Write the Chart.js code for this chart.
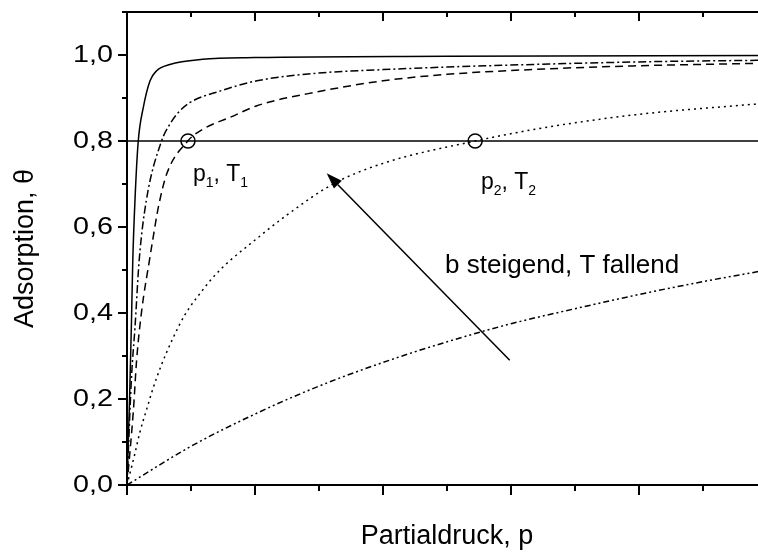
<!DOCTYPE html>
<html lang="de">
<head>
<meta charset="utf-8">
<title>Langmuir-Isothermen</title>
<script src="https://cdn.jsdelivr.net/npm/chart.js@4.4.1/dist/chart.umd.min.js"></script>
<style>
  html, body { margin: 0; padding: 0; background: #fff; overflow: hidden; }
  #wrap { width: 800px; height: 556px; }
</style>
</head>
<body>
<div id="wrap"><canvas id="isoChart" width="800" height="556"></canvas></div>
<script>
// Isothermen: Partialdruck p (0..10) und Bedeckung theta
const pA = [0, 0.04, 0.07, 0.09, 0.13, 0.176, 0.255, 0.36, 0.46, 0.67, 1.18, 2, 5, 10];
const thetaA = [0, 0.2, 0.38, 0.52, 0.68, 0.80, 0.878, 0.94, 0.963, 0.978, 0.99, 0.994, 0.997, 0.999];

const pB = [0, 0.07, 0.125, 0.19, 0.3, 0.54, 0.67, 0.8, 0.98, 1.45, 2.03, 3, 4, 5, 6.6, 8, 10];
const thetaB = [0, 0.25, 0.367, 0.522, 0.66, 0.80, 0.839, 0.866, 0.889, 0.916, 0.94, 0.958, 0.966, 0.972, 0.979, 0.984, 0.988];

const pC = [0, 0.1, 0.15, 0.23, 0.35, 0.4, 0.49, 0.62, 0.95, 1.19, 1.61, 2.03, 3, 4, 5, 6.6, 8, 10];
const thetaC = [0, 0.174, 0.29, 0.406, 0.522, 0.568, 0.646, 0.723, 0.80, 0.828, 0.855, 0.882, 0.915, 0.94, 0.955, 0.968, 0.975, 0.981];

const pD = [0, 0.125, 0.2, 0.307, 0.41, 0.54, 0.72, 0.906, 1.19, 1.4, 1.61, 1.92, 2.5, 3.22, 4, 5.44, 6.6, 8, 10];
const thetaD = [0, 0.074, 0.122, 0.176, 0.226, 0.28, 0.342, 0.396, 0.455, 0.492, 0.522, 0.56, 0.628, 0.7, 0.748, 0.80, 0.833, 0.862, 0.888];

const pE = [0, 1, 2, 3, 4, 5, 6, 7, 8, 9, 10];
const thetaE = [0, 0.09, 0.165, 0.23, 0.285, 0.333, 0.375, 0.41, 0.443, 0.473, 0.5];

// Bezugslinie theta = 0,8 und die markierten Punkte
const refTheta = 0.8;
const markP = [0.953, 5.44];
const markLabels = [['p', '1', ', T', '1'], ['p', '2', ', T', '2']];
const labelPos = [[1.03, 0.708], [5.53, 0.689]];

// Pfeil (Schwanz -> Spitze) und Beschriftung
const arrowFrom = [5.98, 0.29];
const arrowTo = [3.12, 0.725];
const arrowText = 'b steigend, T fallend';
const arrowTextPos = [4.97, 0.494];

const yTicks = [0, 0.2, 0.4, 0.6, 0.8, 1.0];

const FONT = "'Liberation Sans', Arial, sans-serif";
const toXY = (ps, ts) => ps.map((p, i) => ({ x: p, y: ts[i] }));
const fmt = v => v.toFixed(1).replace('.', ',');

function curve(ps, ts, dash) {
  return {
    data: toXY(ps, ts),
    borderColor: '#000',
    borderWidth: 1.5,
    borderDash: dash,
    pointRadius: 0,
    fill: false,
    cubicInterpolationMode: 'monotone'
  };
}

// Rahmen mit Teilstrichen: links/unten nach außen, oben/rechts nach innen;
// die y-Beschriftung ist breit gezogen
const frame = {
  id: 'frame',
  afterDraw(chart) {
    const { ctx, chartArea: a, scales: { x, y } } = chart;
    ctx.save();
    ctx.strokeStyle = '#000';
    ctx.lineWidth = 2;
    ctx.strokeRect(a.left, a.top, a.right - a.left, a.bottom - a.top);
    ctx.beginPath();
    x.ticks.forEach(t => {
      const px = x.getPixelForValue(t.value);
      const major = Math.round(t.value) % 2 === 0;
      const len = major ? 10 : 6;
      ctx.moveTo(px, a.bottom); ctx.lineTo(px, a.bottom + len);
      ctx.moveTo(px, a.top); ctx.lineTo(px, a.top + len - 1);
    });
    y.ticks.forEach(t => {
      const py = y.getPixelForValue(t.value);
      const major = Math.round(t.value * 10) % 2 === 0;
      const len = major ? 9 : 5;
      ctx.moveTo(a.left - len, py); ctx.lineTo(a.left, py);
      ctx.moveTo(a.right - len, py); ctx.lineTo(a.right, py);
    });
    ctx.stroke();

    ctx.fillStyle = '#000';
    ctx.font = '23px ' + FONT;
    ctx.textAlign = 'right';
    ctx.textBaseline = 'middle';
    yTicks.forEach(v => {
      const py = y.getPixelForValue(v);
      ctx.save();
      ctx.translate(a.left - 14, py + 1);
      ctx.scale(1.25, 1);
      ctx.fillText(fmt(v), 0, 0);
      ctx.restore();
    });
    ctx.restore();
  }
};

// Beschriftungen p1,T1 / p2,T2 und der Pfeil
const notes = {
  id: 'notes',
  afterDatasetsDraw(chart) {
    const { ctx, scales: { x, y } } = chart;
    ctx.save();
    ctx.fillStyle = '#000';
    ctx.strokeStyle = '#000';
    ctx.textBaseline = 'alphabetic';
    ctx.textAlign = 'left';

    markLabels.forEach((parts, i) => {
      let px = x.getPixelForValue(labelPos[i][0]);
      const py = y.getPixelForValue(labelPos[i][1]);
      parts.forEach((s, k) => {
        const sub = k % 2 === 1;
        ctx.font = (sub ? '14px ' : '23px ') + FONT;
        ctx.fillText(s, px, sub ? py + 6 : py);
        px += ctx.measureText(s).width;
      });
    });

    ctx.font = '26px ' + FONT;
    ctx.fillText(arrowText, x.getPixelForValue(arrowTextPos[0]), y.getPixelForValue(arrowTextPos[1]));

    const x0 = x.getPixelForValue(arrowFrom[0]), y0 = y.getPixelForValue(arrowFrom[1]);
    const x1 = x.getPixelForValue(arrowTo[0]), y1 = y.getPixelForValue(arrowTo[1]);
    const ang = Math.atan2(y1 - y0, x1 - x0);
    const hl = 16, hw = 5.5;
    const bx = x1 - hl * Math.cos(ang), by = y1 - hl * Math.sin(ang);
    ctx.lineWidth = 1.5;
    ctx.beginPath();
    ctx.moveTo(x0, y0);
    ctx.lineTo(bx, by);
    ctx.stroke();
    ctx.beginPath();
    ctx.moveTo(x1, y1);
    ctx.lineTo(bx + hw * Math.sin(ang), by - hw * Math.cos(ang));
    ctx.lineTo(bx - hw * Math.sin(ang), by + hw * Math.cos(ang));
    ctx.closePath();
    ctx.fill();
    ctx.restore();
  }
};

new Chart(document.getElementById('isoChart'), {
  type: 'line',
  data: {
    datasets: [
      curve(pA, thetaA, []),
      curve(pB, thetaB, [8, 3, 2, 3]),
      curve(pC, thetaC, [8, 5]),
      curve(pD, thetaD, [2, 4]),
      curve(pE, thetaE, [6, 3, 2, 3, 2, 3]),
      {
        data: [{ x: 0, y: refTheta }, { x: 10, y: refTheta }],
        borderColor: '#000',
        borderWidth: 1.5,
        pointRadius: 0
      },
      {
        type: 'scatter',
        data: markP.map(p => ({ x: p, y: refTheta })),
        pointStyle: 'circle',
        pointRadius: 7,
        pointBorderWidth: 1.5,
        pointBorderColor: '#000',
        pointBackgroundColor: 'rgba(0,0,0,0)',
        showLine: false
      }
    ]
  },
  options: {
    responsive: false,
    animation: false,
    layout: { padding: { left: 0, top: 12, right: 33, bottom: 0 } },
    plugins: { legend: { display: false }, tooltip: { enabled: false } },
    scales: {
      x: {
        type: 'linear',
        min: 0,
        max: 10,
        grid: { display: false },
        border: { display: false },
        ticks: { stepSize: 1, display: false },
        title: {
          display: true,
          text: 'Partialdruck, p',
          color: '#000',
          font: { family: FONT, size: 27 },
          padding: { top: 0, bottom: 3 }
        },
        afterFit(s) { s.height = 71; s.paddingLeft = 0; s.paddingRight = 0; }
      },
      y: {
        min: 0,
        max: 1.1,
        grid: { display: false },
        border: { display: false },
        ticks: { stepSize: 0.1, display: false },
        title: {
          display: true,
          text: 'Adsorption, \u03b8',
          color: '#000',
          font: { family: FONT, size: 27 },
          padding: { top: 9, bottom: 0 }
        },
        afterFit(s) { s.width = 127; s.paddingTop = 0; s.paddingBottom = 0; }
      }
    }
  },
  plugins: [frame, notes]
});
</script>
</body>
</html>
